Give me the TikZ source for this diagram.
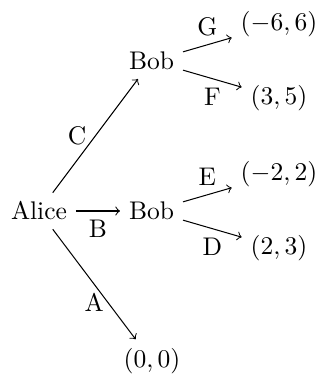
\documentclass[tikz,border=0pt]{standalone}
\begin{document}
\begin{tikzpicture}[x=0.392pt,y=-0.392pt,
  arr/.style={->},
  lbl/.style={inner sep=3.33pt}]
\useasboundingbox (0,0) rectangle (321,377);
\node (alice) at (39,211) {Alice};
\node (bob1) at (151.5,61) {Bob};
\node (bob2) at (151.5,211) {Bob};
\node (l0) at (152,361) {$(0,0)$};
\node (g) at (279,24) {$(-6,6)$};
\node (f) at (279,98) {$(3,5)$};
\node (e) at (279,174) {$(-2,2)$};
\node (d) at (279,248) {$(2,3)$};
\draw[arr] (alice) -- node[lbl,midway,left] (lc) {C} (bob1);
\draw[arr] (alice) -- node[lbl,midway,below] (lb) {B} (bob2);
\draw[arr] (alice) -- node[lbl,midway,below] (la) {A} (l0);
\draw[arr] (bob1) -- node[lbl,midway,above] (lg) {G} (g);
\draw[arr] (bob1) -- node[lbl,midway,below] (lf) {F} (f);
\draw[arr] (bob2) -- node[lbl,midway,above] (le) {E} (e);
\draw[arr] (bob2) -- node[lbl,midway,below] (ld) {D} (d);
\end{tikzpicture}
\end{document}
